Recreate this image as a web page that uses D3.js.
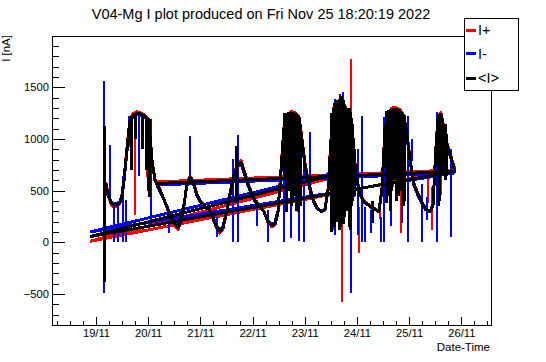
<!DOCTYPE html>
<html>
<head>
<meta charset="utf-8">
<script src="https://cdn.jsdelivr.net/npm/d3@7"></script>
<style>
html,body{margin:0;padding:0;background:#fff;}
svg{display:block;font-family:"Liberation Sans",Arial,Helvetica,sans-serif;}
</style>
</head>
<body>
<svg id="chart" width="546" height="362"></svg>
<script>
// ---------------- DATA ----------------
const titleText = "V04-Mg I plot produced on Fri Nov 25 18:20:19 2022";
const seriesNames = ["I+", "I-", "<I>"];
const seriesColors = ["#ff0000", "#0000ff", "#000000"];
const startDateUTC = [2022, 10, 18, 0, 0];      // hours below are counted from 18/11 00:00
const xRangeHours = [3.77, 205.97];
const yRange = [-800, 1997];
const yMajorTicks = [-500, 0, 500, 1000, 1500];

// sample times (hours since 18/11 00:00)
const hours = [
 27.7, 28.6, 29.5, 30.9, 32.3, 33.7, 35.0, 36.0, 36.9, 37.8,
 38.7, 39.6, 41.0, 42.9, 44.7, 46.5, 47.9, 48.8, 49.7, 51.1,
 52.5, 54.3, 56.2, 58.0, 59.9, 61.7, 63.1, 64.5, 65.8, 67.2,
 68.6, 70.4, 72.3, 74.1, 76.0, 77.8, 79.6, 81.0, 82.4, 83.8,
 85.6, 87.5, 89.3, 90.7, 92.1, 93.9, 95.7, 97.6, 99.4, 101.2,
 103.1, 104.9, 106.3, 107.7, 109.1, 110.4, 111.8, 113.7, 115.5, 117.3,
 118.7, 120.1, 121.9, 123.8, 125.6, 127.5, 129.3, 130.7, 132.1, 133.4,
 135.3, 137.1, 139.0, 140.8, 142.2, 143.5, 145.4, 147.2, 149.1, 150.9,
 152.7, 154.1, 155.5, 156.9, 158.3, 160.1, 161.9, 163.8, 165.6, 167.0,
 168.4, 170.2, 172.1, 173.9, 175.7, 177.6, 179.0, 180.3, 181.3, 182.6,
 184.0, 185.4, 186.8, 188.2, 189.1
];
// I+ [nA]
const iPlus = [
 520, 575, 470, 370, 340, 350, 375, 470, 620, 820,
 1010, 1190, 1245, 1265, 1250, 1230, 1200, 1060, 810, 600,
 550, 470, 360, 255, 165, 125, 190, 360, 570, 640,
 600, 470, 390, 350, 315, 230, 130, 90, 130, 260,
 470, 670, 770, 790, 700, 570, 470, 390, 350, 300,
 190, 150, 170, 290, 720, 1110, 1225, 1265, 1255, 1220,
 1010, 765, 570, 420, 340, 300, 320, 520, 1010, 1300,
 1350, 1370, 1300, 1205, 1010, 670, 470, 400, 370, 340,
 320, 300, 520, 1110, 1255, 1300, 1305, 1285, 1225, 1060,
 815, 570, 470, 390, 320, 300, 370, 910, 1225, 1255,
 1110, 960, 865, 765, 700
];
// I- [nA]
const iMinus = [
 500, 545, 455, 395, 370, 380, 395, 455, 595, 785,
 985, 1155, 1215, 1235, 1230, 1210, 1180, 1030, 795, 615,
 530, 455, 370, 280, 195, 158, 210, 370, 550, 615,
 578, 455, 380, 342, 318, 248, 155, 115, 155, 275,
 455, 645, 740, 760, 672, 550, 455, 380, 342, 296,
 210, 172, 192, 305, 690, 1080, 1198, 1235, 1228, 1200,
 985, 742, 550, 408, 332, 296, 314, 502, 985, 1278,
 1325, 1345, 1278, 1180, 985, 645, 455, 390, 362, 332,
 314, 296, 502, 1080, 1225, 1278, 1275, 1255, 1198, 1032,
 790, 550, 455, 380, 314, 296, 362, 890, 1198, 1225,
 1080, 938, 840, 742, 672
];
// <I> [nA]
const iMean = [
 511, 560, 463, 385, 356, 366, 385, 463, 609, 803,
 998, 1173, 1231, 1250, 1241, 1221, 1192, 1046, 803, 609,
 541, 463, 366, 268, 181, 142, 200, 366, 560, 628,
 589, 463, 385, 346, 317, 239, 142, 103, 142, 268,
 463, 657, 754, 774, 686, 560, 463, 385, 346, 298,
 200, 161, 181, 298, 706, 1095, 1211, 1250, 1241, 1211,
 998, 754, 560, 414, 336, 298, 317, 511, 998, 1289,
 1338, 1357, 1289, 1192, 998, 657, 463, 395, 366, 336,
 317, 298, 511, 1095, 1240, 1289, 1289, 1270, 1211, 1046,
 803, 560, 463, 385, 317, 298, 366, 900, 1211, 1240,
 1095, 949, 852, 754, 686
];

// short excursions: [hour, low nA, high nA]
const plusSpikes = [
 [41.8, 268, 1026], [47.5, 628, 1190], [133.0, 122, 774], [137.1, -578, 638],
 [141.1, -72, 1775], [144.8, -100, 346], [160.7, 540, 1026], [164.1, 93, 1220],
 [176.8, 385, 638], [178.3, 122, 540], [180.6, 0, 414], [182.6, 463, 1190],
 [113.0, 950, 1250], [154.5, 230, 450]
];
const minusSpikes = [
 [27.5, -490, 1561], [30.4, 385, 939], [32.3, 6, 385], [34.1, 0, 385],
 [36.4, 0, 638], [37.8, 0, 414], [39.2, 920, 1220], [43.6, 638, 1220],
 [49.3, 220, 1190], [57.6, 93, 250], [67.2, 609, 1026], [79.5, 54, 250],
 [87.0, 0, 803], [89.2, 0, 1036], [98.0, 160, 414], [103.1, 0, 317],
 [110.4, 0, 1220], [113.5, 45, 638], [117.3, 16, 657], [119.8, 6, 735],
 [122.4, 443, 1066], [133.9, 74, 1386], [136.2, 170, 1435], [137.4, 803, 1455],
 [141.1, -490, 1259], [142.6, 443, 832], [144.5, 74, 900], [146.2, 6, 1220],
 [147.7, 0, 346], [150.3, 93, 317], [154.9, 0, 250], [156.4, 6, 1210],
 [159.5, 160, 1066], [164.8, 190, 580], [167.5, 6, 1220], [169.4, 784, 998],
 [173.8, 0, 560], [176.1, 220, 443], [181.0, 0, 1260], [187.2, 54, 900]
];
const meanSpikes = [
 [27.7, -383, 1124], [40.5, 700, 1220], [42.0, 1000, 1250], [45.5, 900, 1230],
 [47.0, 700, 1200], [48.2, 500, 1200], [48.8, 434, 1190], [88.5, 385, 930],
 [110.8, 600, 1250], [111.5, 290, 1250], [112.5, 500, 1260], [113.8, 350, 1240],
 [114.5, 400, 1250], [115.8, 450, 1230], [116.3, 300, 1220], [117.0, 290, 1210],
 [118.0, 350, 1100],
 [132.5, 100, 1250], [133.0, 250, 1300], [133.8, 150, 1350], [134.5, 200, 1380],
 [135.0, 300, 1370], [135.8, 120, 1390], [136.5, 150, 1400], [137.0, 200, 1420],
 [137.8, 180, 1380], [138.5, 250, 1330], [139.5, 300, 1300], [140.5, 150, 1300],
 [141.0, 120, 1260], [141.5, 350, 1200], [142.0, 400, 1150], [143.0, 450, 900],
 [151.0, 190, 400],
 [157.5, 385, 1270], [158.5, 450, 1280], [159.3, 300, 1290], [160.0, 500, 1290],
 [161.2, 600, 1300], [162.2, 400, 1290], [163.0, 450, 1280], [164.5, 500, 1260],
 [165.2, 350, 1240], [166.0, 400, 1230],
 [181.5, 350, 1230], [182.0, 400, 1240], [183.2, 700, 1200], [184.5, 600, 1150],
 [185.0, 650, 1050]
];

// long joining segments between non-consecutive samples: [hour1, nA1, hour2, nA2]
const plusLinks = [[21.2, 10, 139.5, 665], [21.2, 10, 189.1, 700], [52.0, 585, 189.1, 700]];
const minusLinks = [[21.2, 100, 137.5, 690], [21.2, 100, 189.1, 672], [52.0, 555, 189.1, 672]];
const meanLinks = [[21.2, 55, 138.5, 680], [21.2, 55, 189.1, 686], [52.0, 570, 189.1, 686]];

// ---------------- CHART ----------------
const svg = d3.select("#chart");
const frame = {left: 52, right: 491.7, top: 36, bottom: 325};
const base = Date.UTC(...startDateUTC);
const toDate = h => new Date(base + h * 3600000);

const x = d3.scaleUtc().domain(xRangeHours.map(toDate)).range([frame.left, frame.right]);
const y = d3.scaleLinear().domain(yRange).range([frame.bottom, frame.top]);

const fontTick = "11.2px";

// title
svg.append("text").attr("x", 261).attr("y", 18.5).attr("text-anchor", "middle")
  .style("font-size", "14.5px").attr("fill", "#000").text(titleText);

// data layer
const plot = svg.append("g");
const series = [
  {vals: iPlus, spikes: plusSpikes, links: plusLinks, sw: 2},
  {vals: iMinus, spikes: minusSpikes, links: minusLinks, sw: 2},
  {vals: iMean, spikes: meanSpikes, links: meanLinks, sw: 3}
];
const line = d3.line().x(d => x(toDate(d[0]))).y(d => y(d[1]));
series.forEach((s, i) => {
  const g = plot.append("g").attr("stroke", seriesColors[i]).attr("fill", "none")
    .attr("shape-rendering", "crispEdges");
  g.selectAll("line.link").data(s.links).join("line").attr("class", "link")
    .attr("x1", d => x(toDate(d[0]))).attr("y1", d => y(d[1]))
    .attr("x2", d => x(toDate(d[2]))).attr("y2", d => y(d[3]))
    .attr("stroke-width", 3);
  g.append("path").datum(hours.map((h, k) => [h, s.vals[k]]))
    .attr("d", line).attr("stroke-width", 3).attr("stroke-linejoin", "round");
  g.selectAll("line.spike").data(s.spikes).join("line").attr("class", "spike")
    .attr("x1", d => x(toDate(d[0]))).attr("x2", d => x(toDate(d[0])))
    .attr("y1", d => y(d[1])).attr("y2", d => y(d[2]))
    .attr("stroke-width", s.sw);
});

// frame
svg.append("rect").attr("x", frame.left).attr("y", frame.top)
  .attr("width", frame.right - frame.left).attr("height", frame.bottom - frame.top)
  .attr("fill", "none").attr("stroke", "#000").attr("stroke-width", 1)
  .attr("shape-rendering", "crispEdges");

// x axis
const xMinor = svg.append("g").attr("transform", `translate(0,${frame.bottom})`)
  .call(d3.axisBottom(x).ticks(d3.utcHour.every(6)).tickSizeInner(-4).tickSizeOuter(0).tickFormat(""));
xMinor.select(".domain").remove();
const xMajor = svg.append("g").attr("transform", `translate(0,${frame.bottom})`)
  .call(d3.axisBottom(x).ticks(d3.utcDay.every(1)).tickSizeInner(-8).tickSizeOuter(0)
    .tickPadding(4).tickFormat(d3.utcFormat("%d/%m")));
xMajor.select(".domain").remove();
xMajor.selectAll("text").style("font-size", fontTick).attr("fill", "#000");

svg.append("text").attr("x", 490).attr("y", 351).attr("text-anchor", "end")
  .style("font-size", "11.5px").text("Date-Time");

// y axis
const yMinorVals = d3.range(yRange[0], yRange[1], 100).filter(v => v % 500 !== 0);
const yMinor = svg.append("g").attr("transform", `translate(${frame.left},0)`)
  .call(d3.axisLeft(y).tickValues(yMinorVals).tickSizeInner(-7).tickSizeOuter(0).tickFormat(""));
yMinor.select(".domain").remove();
const yMajor = svg.append("g").attr("transform", `translate(${frame.left},0)`)
  .call(d3.axisLeft(y).tickValues(yMajorTicks).tickSizeInner(-13).tickSizeOuter(0)
    .tickPadding(3).tickFormat(d3.format("d")));
yMajor.select(".domain").remove();
yMajor.selectAll("text").style("font-size", fontTick).attr("fill", "#000");
svg.selectAll(".tick line").attr("stroke", "#000").attr("shape-rendering", "crispEdges");

svg.append("text").attr("transform", "translate(10,35) rotate(-90)")
  .attr("text-anchor", "end").style("font-size", "11.5px").text("I [nA]");

// legend
const leg = svg.append("g");
leg.append("rect").attr("x", 464).attr("y", 18).attr("width", 54).attr("height", 72)
  .attr("fill", "#fff").attr("stroke", "#000").attr("shape-rendering", "crispEdges");
const legY = [30, 53.5, 78];
seriesNames.forEach((n, i) => {
  leg.append("line").attr("x1", 466).attr("x2", 476).attr("y1", legY[i]).attr("y2", legY[i])
    .attr("stroke", seriesColors[i]).attr("stroke-width", 3).attr("shape-rendering", "crispEdges");
  leg.append("text").attr("x", 478).attr("y", legY[i] + 5).style("font-size", "14.5px").text(n);
});
</script>
</body>
</html>
